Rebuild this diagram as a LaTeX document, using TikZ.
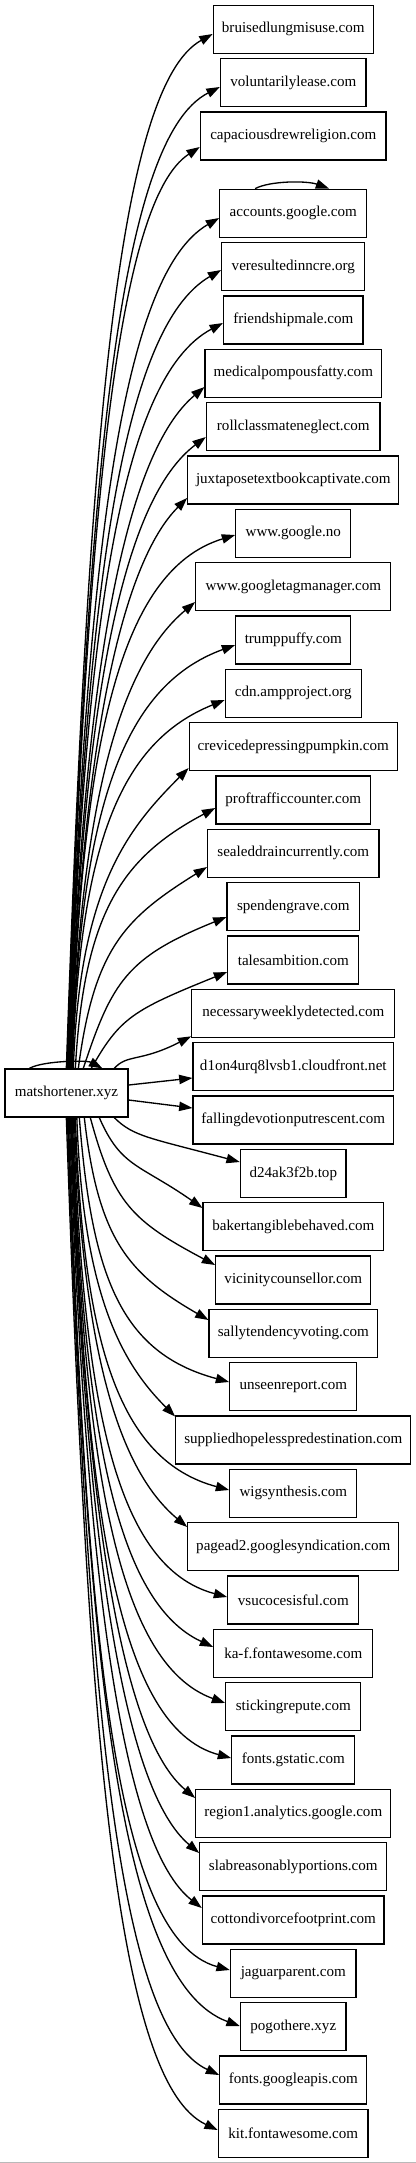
\documentclass[tikz,border=0pt]{standalone}
\usepackage{fontspec}
\setmainfont{Liberation Serif}
\usetikzlibrary{arrows.meta,calc}
\tikzset{
  box/.style={draw=black, line width=1pt, rectangle, minimum height=36pt, inner sep=0pt,
    font=\fontsize{11.3pt}{13pt}\selectfont},
  edge/.style={line width=1pt, -{Triangle[length=10pt,width=7pt]}},
}
% node: name, label, y centre (px), width (px)
\newcommand\dom[4]{\pgfmathsetmacro\wpt{#4*0.75}%
  \node[box, minimum width=\wpt pt] (#1) at (293.3,-#3) {#2};}
% upward edge: name, y centre, width, start x, end y offset (px down), arrival angle
\newcommand\eup[6]{%
  \pgfmathsetmacro\ex{293.3-#3/2}%
  \pgfmathsetmacro\ddx{\ex-#4}%
  \pgfmathsetmacro\ddy{1069-(#2+(#5))}%
  \pgfmathsetmacro\ph{min(88,atan(\ddy/\ddx)+25)}%
  \pgfmathsetmacro\ca{0.6*\ddy*cos(\ph)}%
  \pgfmathsetmacro\cb{0.6*\ddy*sin(\ph)}%
  \pgfmathsetmacro\cc{-0.75*\ddx*cos(#6)}%
  \pgfmathsetmacro\cd{-0.75*\ddx*sin(#6)}%
  \pgfmathsetmacro\oy{-(#5)}%
  \pgfmathsetmacro\sx{#4-5}%
  \draw[edge] ($(m.north west)+(\sx,0)$) .. controls +(\ca,\cb) and +(\cc,\cd) .. ($(#1.west)+(0,\oy)$);}
% downward edge
\newcommand\edn[6]{%
  \pgfmathsetmacro\ex{293.3-#3/2}%
  \pgfmathsetmacro\ddx{\ex-#4}%
  \pgfmathsetmacro\ddy{(#2+(#5))-1117}%
  \pgfmathsetmacro\ph{min(88,atan(\ddy/\ddx)+25)}%
  \pgfmathsetmacro\ca{0.6*\ddy*cos(\ph)}%
  \pgfmathsetmacro\cb{-0.6*\ddy*sin(\ph)}%
  \pgfmathsetmacro\cc{-0.75*\ddx*cos(#6)}%
  \pgfmathsetmacro\cd{-0.75*\ddx*sin(#6)}%
  \pgfmathsetmacro\oy{-(#5)}%
  \pgfmathsetmacro\sx{#4-5}%
  \draw[edge] ($(m.south west)+(\sx,0)$) .. controls +(\ca,\cb) and +(\cc,\cd) .. ($(#1.west)+(0,\oy)$);}
\begin{document}
\begin{tikzpicture}[x=0.75pt,y=0.75pt]
\useasboundingbox (0,0) rectangle (416,-2163);
\node[box, minimum width=92.25pt] (m) at (66.5,-1093) {matshortener.xyz};
\dom{n0}{bruisedlungmisuse.com}{29.3}{160}
\dom{n1}{voluntarilylease.com}{82.7}{145.7}
\dom{n2}{capaciousdrewreligion.com}{136}{185.7}
\dom{n3}{accounts.google.com}{213.3}{147}
\dom{n4}{veresultedinncre.org}{266.7}{143}
\dom{n5}{friendshipmale.com}{320}{139.4}
\dom{n6}{medicalpompousfatty.com}{373.3}{176.3}
\dom{n7}{rollclassmateneglect.com}{426.7}{173.7}
\dom{n8}{juxtaposetextbookcaptivate.com}{480}{211}
\dom{n9}{www.google.no}{533.3}{115}
\dom{n10}{www.googletagmanager.com}{586.7}{195}
\dom{n11}{trumppuffy.com}{640}{115}
\dom{n12}{cdn.ampproject.org}{693.3}{136}
\dom{n13}{crevicedepressingpumpkin.com}{746.7}{208}
\dom{n14}{proftrafficcounter.com}{800}{154.7}
\dom{n15}{sealeddraincurrently.com}{853.3}{171.3}
\dom{n16}{spendengrave.com}{906.7}{132.3}
\dom{n17}{talesambition.com}{960}{131}
\dom{n18}{necessaryweeklydetected.com}{1013.3}{203}
\dom{n19}{d1on4urq8lvsb1.cloudfront.net}{1066.7}{200.3}
\dom{n20}{fallingdevotionputrescent.com}{1120}{200.3}
\dom{n21}{d24ak3f2b.top}{1173.3}{105.7}
\dom{n22}{bakertangiblebehaved.com}{1226.7}{180.3}
\dom{n23}{vicinitycounsellor.com}{1280}{155}
\dom{n24}{sallytendencyvoting.com}{1333.3}{168.3}
\dom{n25}{unseenreport.com}{1386.7}{127}
\dom{n26}{suppliedhopelesspredestination.com}{1440}{235}
\dom{n27}{wigsynthesis.com}{1493.3}{127}
\dom{n28}{pagead2.googlesyndication.com}{1546.7}{211}
\dom{n29}{vsucocesisful.com}{1600}{131}
\dom{n30}{ka-f.fontawesome.com}{1653.3}{159}
\dom{n31}{stickingrepute.com}{1706.7}{135}
\dom{n32}{fonts.gstatic.com}{1760}{123}
\dom{n33}{region1.analytics.google.com}{1813.3}{195}
\dom{n34}{slabreasonablyportions.com}{1866.7}{187}
\dom{n35}{cottondivorcefootprint.com}{1920}{181.7}
\dom{n36}{jaguarparent.com}{1973.3}{125.7}
\dom{n37}{pogothere.xyz}{2026.7}{105.7}
\dom{n38}{fonts.googleapis.com}{2080}{147}
\dom{n39}{kit.fontawesome.com}{2133.3}{149.7}
% upward edges
\eup{n0}{29.3}{160}{67}{4.7}{29}
\eup{n1}{82.7}{145.7}{67.5}{4.3}{27}
\eup{n2}{136}{185.7}{68}{11}{33}
\eup{n3}{213.3}{147}{68.5}{4.7}{30}
\eup{n4}{266.7}{143}{69}{3.3}{30}
\eup{n5}{320}{139.4}{69.5}{3}{28}
\eup{n6}{373.3}{176.3}{70}{13.7}{40}
\eup{n7}{426.7}{173.7}{70.5}{10.3}{37}
\eup{n8}{480}{211}{71}{18}{45}
\eup{n9}{533.3}{115}{71.5}{1.7}{17}
\eup{n10}{586.7}{195}{72}{15.3}{40}
\eup{n11}{640}{115}{72.5}{5}{20}
\eup{n12}{693.3}{136}{73}{6.7}{22}
\eup{n13}{746.7}{208}{74}{21.3}{45}
\eup{n14}{800}{154.7}{76}{8}{28}
\eup{n15}{853.3}{171.3}{79}{13.7}{32}
\eup{n16}{906.7}{132.3}{84}{10.3}{22}
\eup{n17}{960}{131}{92}{12}{22}
\eup{n18}{1013.3}{203}{115}{23}{27}
% near-horizontal edges
\draw[edge] ($(m.east)+(0,8)$) -- ($(n19.west)+(0,-11.3)$);
\draw[edge] ($(m.east)+(0,-7)$) -- ($(n20.west)+(0,12)$);
% downward edges
\edn{n21}{1173.3}{105.7}{115}{-11.3}{-15}
\edn{n22}{1226.7}{180.3}{100}{-18.7}{-35}
\edn{n23}{1280}{155}{91}{-15}{-28}
\edn{n24}{1333.3}{168.3}{85}{-13.3}{-30}
\edn{n25}{1386.7}{127}{80}{-4.7}{-15}
\edn{n26}{1440}{235}{77.5}{-23.5}{-45}
\edn{n27}{1493.3}{127}{76}{-3.3}{-15}
\edn{n28}{1546.7}{211}{75}{-19.7}{-40}
\edn{n29}{1600}{131}{74}{-3}{-15}
\edn{n30}{1653.3}{159}{73}{-6.3}{-25}
\edn{n31}{1706.7}{135}{72.5}{-3.7}{-20}
\edn{n32}{1760}{123}{72}{-2}{-15}
\edn{n33}{1813.3}{195}{71.5}{-15.3}{-40}
\edn{n34}{1866.7}{187}{71}{-13.7}{-40}
\edn{n35}{1920}{181.7}{70}{-12}{-38}
\edn{n36}{1973.3}{125.7}{69}{-3.3}{-15}
\edn{n37}{2026.7}{105.7}{68.5}{-0.7}{-20}
\edn{n38}{2080}{147}{68}{-5}{-25}
\edn{n39}{2133.3}{149.7}{67}{-3.3}{-25}
% self loops
\draw[edge] ($(m.north west)+(25,0)$) .. controls +(15,8) and +(-15,8) .. ($(m.north west)+(98,0)$);
\draw[edge] ($(n3.north west)+(36,0)$) .. controls +(15,8) and +(-22,8) .. ($(n3.north west)+(110,0)$);
% bottom rule
\coordinate (bl) at (0,-2162.3);
\coordinate (br) at (416,-2162.3);
\draw[gray!55, line width=0.75pt] (bl) -- (br);
\end{tikzpicture}
\end{document}
